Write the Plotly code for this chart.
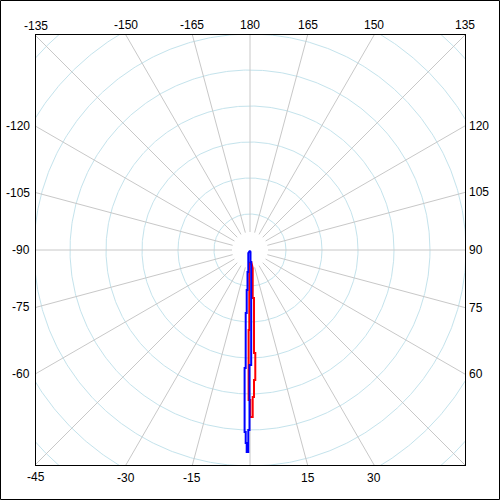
import numpy as np
import plotly.graph_objects as go

# pattern traces: angle in degrees (0 = down, + to the right), radius in ring units
blue_theta = [0, -29.5, -4.42, -6.48, -3.58, -4.72, -3.00, -3.90, -2.09, -2.62, -1.70, -1.35,
              -1.28, -0.98, -0.94, -0.48, -0.54, -0.16, -0.25, 0.60, 5.71, 2.39, 14.0, 0]
blue_r = [0.02, 0.096, 0.613, 0.615, 1.113, 1.115, 1.752, 1.754, 3.280, 3.281, 5.058, 5.057,
          5.363, 5.362, 5.612, 5.611, 5.000, 5.000, 3.194, 3.195, 0.335, 0.334, 0.057, 0.02]

red_theta = [0, -2.23, -0.50, -1.00, -0.53, 0.08, 0.07, 0.93, 1.05, 1.56, 1.76, 2.33,
             2.95, 2.22, 4.76, 3.22, 8.54, 6.18, 0]
red_r = [0.333, 0.500, 2.222, 2.223, 4.167, 4.167, 4.639, 4.639, 4.084, 4.085, 3.613, 3.614,
         2.865, 2.863, 1.338, 1.335, 0.506, 0.335, 0.333]

# angle labels around the frame (no label at 0)
tick_angles = [-165, -150, -135, -120, -105, -90, -75, -60, -45, -30, -15,
               15, 30, 45, 60, 75, 90, 105, 120, 135, 150, 165, 180]
tick_labels = ["-165", "-150", "-135", "-120", "-105", "-90", "-75", "-60", "-45", "-30", "-15",
               "15", "30", "45", "60", "75", "90", "105", "120", "135", "150", "165", "180"]

rings = [1, 2, 3, 4, 5, 6, 7, 8]
spoke_angles = list(range(-165, 181, 15))

PX = 36.0  # pixels per ring
xmin, xmax = -(250 - 36) / PX, (465 - 250) / PX
ymin, ymax = -(465 - 250) / PX, (250 - 35) / PX

fig = go.Figure()

# grid: rings then spokes, clipped by the square frame
a = np.linspace(0, 2 * np.pi, 721)
for k in rings:
    fig.add_trace(go.Scatter(x=k * np.cos(a), y=k * np.sin(a), mode="lines",
                             line=dict(color="#c4e3ec", width=1), hoverinfo="skip"))
for ang in spoke_angles:
    t = np.radians(ang)
    fig.add_trace(go.Scatter(x=[0.5 * np.sin(t), 9 * np.sin(t)], y=[-0.5 * np.cos(t), -9 * np.cos(t)],
                             mode="lines", line=dict(color="#c8c8c8", width=1), hoverinfo="skip"))

fig.add_trace(go.Scatterpolar(r=red_r, theta=red_theta, mode="lines",
                              line=dict(color="red", width=2)))
fig.add_trace(go.Scatterpolar(r=blue_r, theta=blue_theta, mode="lines",
                              line=dict(color="blue", width=2)))

# labels where each spoke meets the frame
for ang, lab in zip(tick_angles, tick_labels):
    t = np.radians(ang)
    dx, dy = np.sin(t), -np.cos(t)
    cands = []
    if abs(dx) > 1e-9:
        cands.append((xmax if dx > 0 else -xmin) / abs(dx))
    if abs(dy) > 1e-9:
        cands.append((ymax if dy > 0 else -ymin) / abs(dy))
    s = min(cands)
    px, py = s * dx, s * dy
    ann = dict(x=px, y=py, xref="x", yref="y", text=lab, showarrow=False,
               font=dict(family="Liberation Sans, Arial", size=12, color="black"))
    if abs(dy) >= abs(dx) - 1e-6:
        ann.update(xanchor="center", yanchor="middle", yshift=10 if dy > 0 else -13)
    elif dx < 0:
        ann.update(xanchor="right", yanchor="middle", xshift=-4)
    else:
        ann.update(xanchor="left", yanchor="middle", xshift=2)
    fig.add_annotation(**ann)

fig.update_layout(
    width=500, height=500, margin=dict(l=0, r=0, t=0, b=0),
    paper_bgcolor="white", plot_bgcolor="white", showlegend=False,
    xaxis=dict(domain=[36 / 500, 465 / 500], range=[xmin, xmax], showgrid=False, zeroline=False,
               showticklabels=False, ticks="", showline=True, mirror=True, linecolor="black", linewidth=1),
    yaxis=dict(domain=[35 / 500, 465 / 500], range=[ymin, ymax], showgrid=False, zeroline=False,
               showticklabels=False, ticks="", showline=True, mirror=True, linecolor="black", linewidth=1),
    polar=dict(domain=dict(x=[0, 1], y=[0, 1]), bgcolor="rgba(0,0,0,0)",
               radialaxis=dict(range=[0, 250 / PX], visible=False),
               angularaxis=dict(rotation=270, direction="counterclockwise", visible=False)),
    shapes=[dict(type="rect", xref="paper", yref="paper", x0=0.001, y0=0.001, x1=0.999, y1=0.999,
                 line=dict(color="black", width=1))],
)

fig.write_html("out.html", config={"displayModeBar": False},
               post_script="document.body.style.margin='0px';document.body.style.overflow='hidden';")
